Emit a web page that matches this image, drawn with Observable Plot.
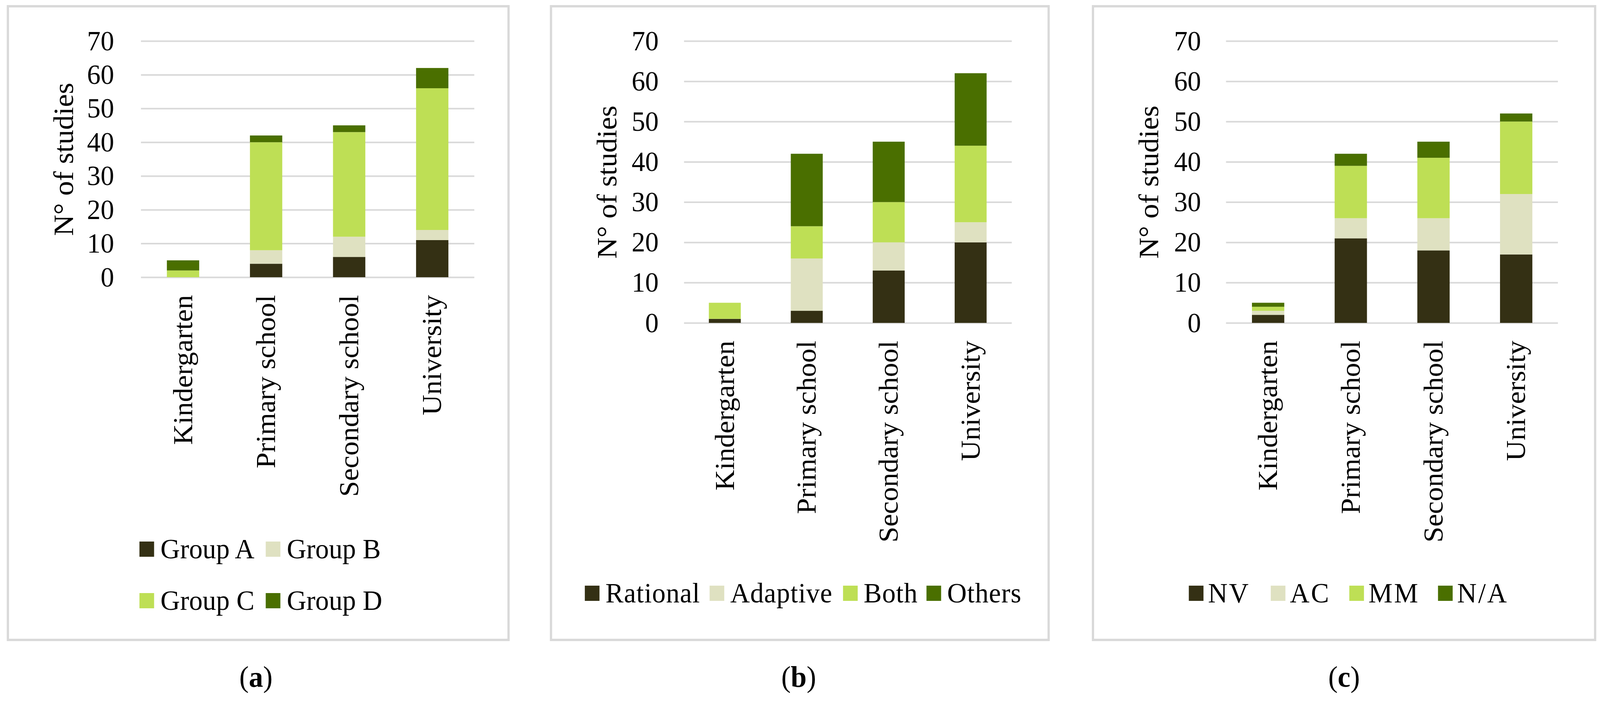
<!DOCTYPE html>
<html>
<head>
<meta charset="utf-8">
<script src="https://cdn.jsdelivr.net/npm/d3@7"></script>
<script src="https://cdn.jsdelivr.net/npm/@observablehq/plot@0.6"></script>
<style>
  html, body { margin: 0; padding: 0; background: #fff; overflow: hidden; }
  #root { position: absolute; left: 0; top: 0; width: 4257px; height: 1798px; overflow: hidden;
          transform-origin: 0 0;
          font-family: "Liberation Serif", "Times New Roman", serif; color: #000; }
  .panel-border { position: absolute; border: 6px solid #d9d9d9; box-sizing: border-box; }
  .chart { position: absolute; top: 0; }
  .legend-item { position: absolute; display: flex; align-items: center; font-size: 72px;
                 line-height: 1; white-space: nowrap; transform: translateY(-50%); }
  .sw { display: inline-block; width: 39px; height: 39px; flex: none; }
  .caption { position: absolute; font-size: 76px; line-height: 1; transform: translate(-50%, -50%); white-space: nowrap; }
</style>
</head>
<body>
<div id="root"></div>
<script>
// ---------- data ----------
const levels = ["Kindergarten", "Primary school", "Secondary school", "University"];
const yTicks = [0, 10, 20, 30, 40, 50, 60, 70];
const yTitle = "N\u00B0 of studies";
const colors = ["#343014", "#dfe1c1", "#bedf55", "#4a6f00"];

// (a)
const seriesA = ["Group A", "Group B", "Group C", "Group D"];
const groupA = [0, 4, 6, 11];
const groupB = [0, 4, 6, 3];
const groupC = [2, 32, 31, 42];
const groupD = [3, 2, 2, 6];

// (b)
const seriesB = ["Rational", "Adaptive", "Both", "Others"];
const rational = [1, 3, 13, 20];
const adaptive = [0, 13, 7, 5];
const both = [4, 8, 10, 19];
const others = [0, 18, 15, 18];

// (c)
const seriesC = ["NV", "AC", "MM", "N/A"];
const nv = [2, 21, 18, 17];
const ac = [1, 5, 8, 15];
const mm = [1, 13, 15, 18];
const na = [1, 3, 4, 2];

const captions = ["a", "b", "c"];

// ---------- drawing ----------
const FONT = '"Liberation Serif", "Times New Roman", serif';
const root = document.getElementById("root");

// fit the 4257x1798 design into the actual viewport
const sx = (document.documentElement.clientWidth || 4257) / 4257;
const sy = (document.documentElement.clientHeight || 1798) / 1798;
root.style.transform = "scale(" + sx + "," + sy + ")";

function makeChart({series, values, width, height, marginLeft, marginRight, marginBottom, tickPadding}) {
  const data = [];
  series.forEach((s, i) => values[i].forEach((v, j) => data.push({level: levels[j], series: s, value: v})));
  return Plot.plot({
    width, height, marginLeft, marginRight, marginTop: 105, marginBottom,
    style: {fontFamily: FONT, fontSize: "72px", color: "#000", background: "transparent", overflow: "visible"},
    x: {domain: levels, paddingInner: 0.61, paddingOuter: 0.305, axis: null},
    y: {domain: [0, 70], axis: null},
    color: {domain: series, range: colors},
    marks: [
      Plot.ruleY(yTicks, {stroke: "#d9d9d9", strokeWidth: 4}),
      Plot.barY(data, {x: "level", y: "value", fill: "series"}),
      Plot.axisY({ticks: yTicks, tickSize: 0, tickPadding, fontSize: 72, label: null}),
      Plot.axisX({tickSize: 0, tickRotate: -90, tickPadding: 45, fontSize: 73, label: null}),
      Plot.text([yTitle], {text: d => d, frameAnchor: "left", textAnchor: "middle", lineAnchor: "middle",
                           rotate: -90, dx: -205, fontSize: 75})
    ]
  });
}

function addBorder(l, t, r, b) {
  const d = document.createElement("div");
  d.className = "panel-border";
  Object.assign(d.style, {left: l + "px", top: t + "px", width: (r - l) + "px", height: (b - t) + "px"});
  root.appendChild(d);
}

function addChart(svg, left) {
  svg.classList.add("chart");
  svg.style.left = left + "px";
  root.appendChild(svg);
}

function addLegendItem(label, color, x, y, gap, spacing) {
  const item = document.createElement("div");
  item.className = "legend-item";
  item.style.left = x + "px";
  item.style.top = y + "px";
  const sw = document.createElement("span");
  sw.className = "sw";
  sw.style.background = color;
  const tx = document.createElement("span");
  tx.textContent = label;
  tx.style.marginLeft = gap + "px";
  tx.style.letterSpacing = spacing + "px";
  item.appendChild(sw);
  item.appendChild(tx);
  root.appendChild(item);
}

function addCaption(letter, x, y) {
  const c = document.createElement("div");
  c.className = "caption";
  c.style.left = x + "px";
  c.style.top = y + "px";
  c.innerHTML = "(<b>" + letter + "</b>)";
  root.appendChild(c);
}

// borders
addBorder(18, 13, 1356, 1642);
addBorder(1463, 13, 2793, 1642);
addBorder(2905, 13, 4247, 1642);

// charts
addChart(makeChart({series: seriesA, values: [groupA, groupB, groupC, groupD],
  width: 1420, height: 1300, marginLeft: 375, marginRight: 158, marginBottom: 590, tickPadding: 72}), 0);
addChart(makeChart({series: seriesB, values: [rational, adaptive, both, others],
  width: 1420, height: 1300, marginLeft: 400, marginRight: 148, marginBottom: 473, tickPadding: 68}), 1420);
addChart(makeChart({series: seriesC, values: [nv, ac, mm, na],
  width: 1417, height: 1300, marginLeft: 422, marginRight: 112, marginBottom: 473, tickPadding: 67}), 2840);

// legends
const legA = [[371, 1406], [707, 1406], [371, 1538], [707, 1538]];
seriesA.forEach((s, i) => addLegendItem(s, colors[i], legA[i][0], legA[i][1], 17, 0));
const legB = [1556, 1888, 2243, 2465];
seriesB.forEach((s, i) => addLegendItem(s, colors[i], legB[i], 1519, 16, 1));
const legC = [3163, 3381, 3590, 3826];
seriesC.forEach((s, i) => addLegendItem(s, colors[i], legC[i], 1519, 12, 4));

// captions
addCaption(captions[0], 681, 1733);
addCaption(captions[1], 2125, 1733);
addCaption(captions[2], 3576, 1733);
</script>
</body>
</html>
